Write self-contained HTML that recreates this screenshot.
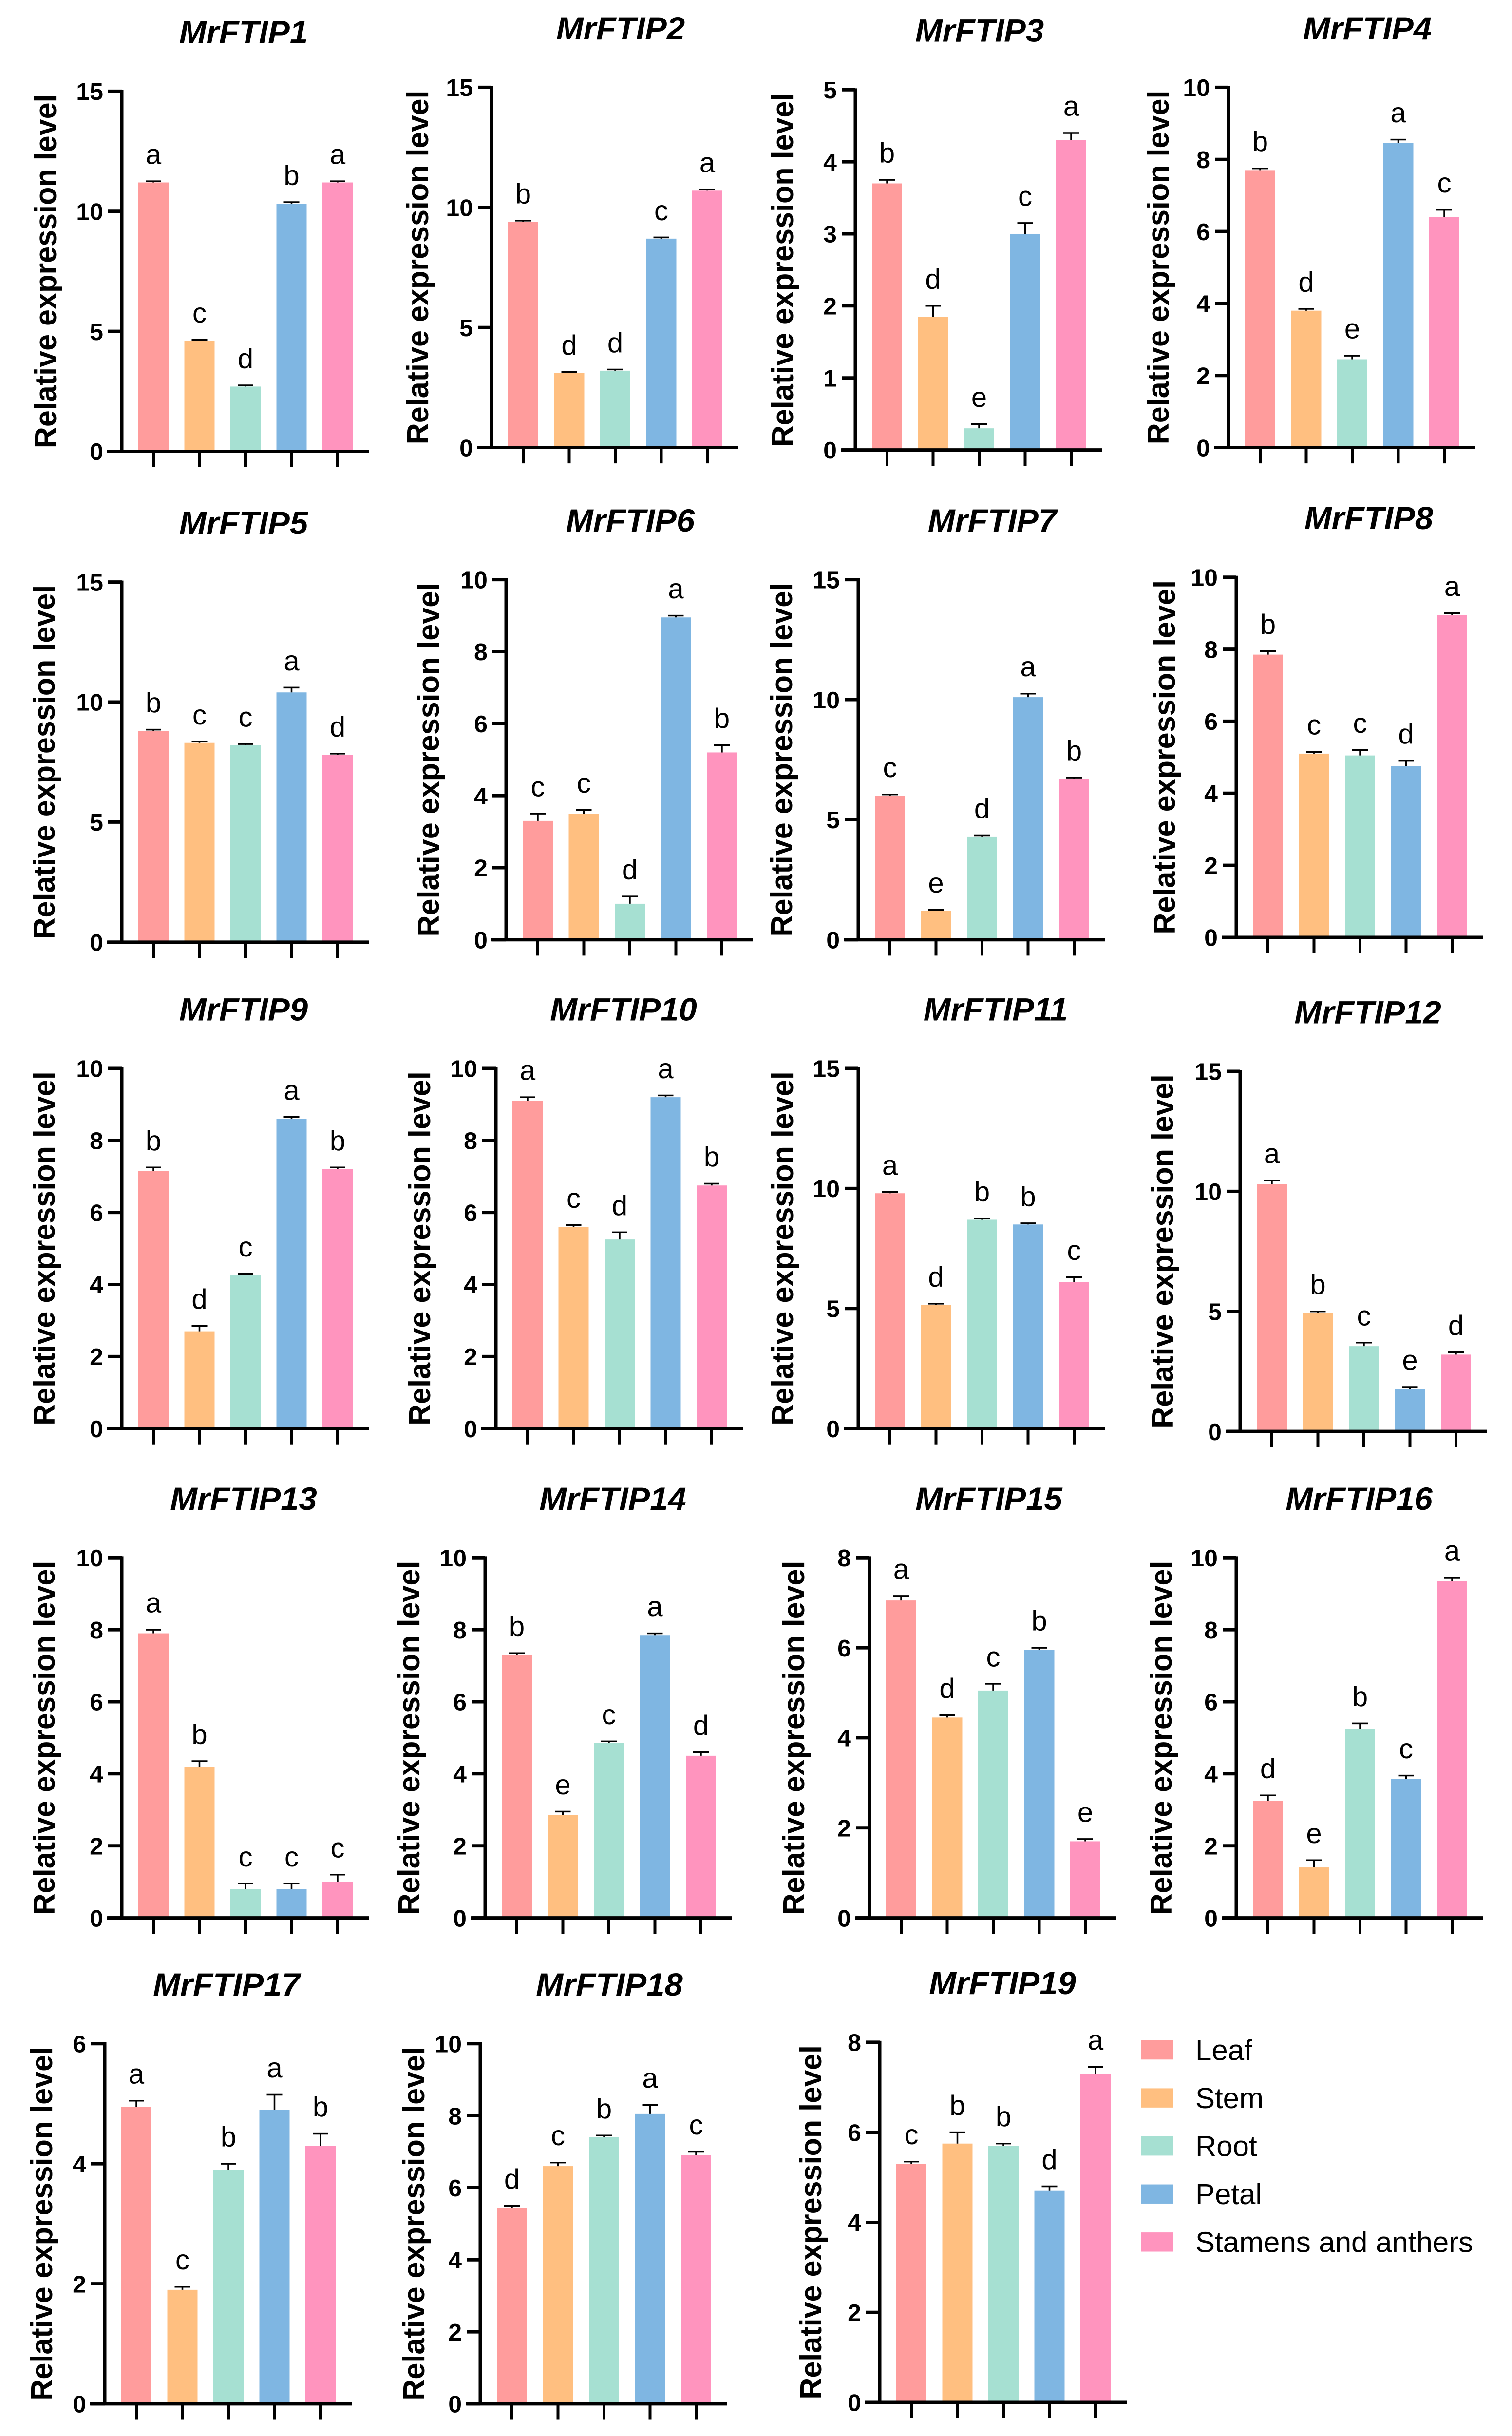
<!DOCTYPE html>
<html><head><meta charset="utf-8">
<style>
html,body{margin:0;padding:0;background:#fff;width:100vw;height:100vh;overflow:hidden;}
svg{display:block;position:absolute;left:0;top:0;width:100vw;height:100vh;overflow:hidden;}
text{font-family:"Liberation Sans",Arial,sans-serif;}
</style></head>
<body>
<svg id="fig" viewBox="0 0 3104 5073" preserveAspectRatio="none" xmlns="http://www.w3.org/2000/svg"></svg>
<script>
const tissues = ["Leaf","Stem","Root","Petal","Stamens and anthers"];
const colors = ["#FF9C9C","#FFBF80","#A6E0D2","#7FB6E2","#FF94BE"];
const genes = ["MrFTIP1","MrFTIP2","MrFTIP3","MrFTIP4","MrFTIP5","MrFTIP6","MrFTIP7","MrFTIP8","MrFTIP9","MrFTIP10","MrFTIP11","MrFTIP12","MrFTIP13","MrFTIP14","MrFTIP15","MrFTIP16","MrFTIP17","MrFTIP18","MrFTIP19"];
const yMax = [15,15,5,10,15,10,15,10,10,10,15,15,10,10,8,10,6,10,8];
const yStep = [5,5,1,2,5,2,5,2,2,2,5,5,2,2,2,2,2,2,2];
const values = [
 [11.2,4.6,2.7,10.3,11.2],
 [9.4,3.1,3.2,8.7,10.7],
 [3.7,1.85,0.3,3.0,4.3],
 [7.7,3.8,2.45,8.45,6.4],
 [8.8,8.3,8.2,10.4,7.8],
 [3.3,3.5,1.0,8.95,5.2],
 [6.0,1.2,4.3,10.1,6.7],
 [7.85,5.1,5.05,4.75,8.95],
 [7.15,2.7,4.25,8.6,7.2],
 [9.1,5.6,5.25,9.2,6.75],
 [9.8,5.15,8.7,8.5,6.1],
 [10.3,4.95,3.55,1.75,3.2],
 [7.9,4.2,0.8,0.8,1.0],
 [7.3,2.85,4.85,7.85,4.5],
 [7.05,4.45,5.05,5.95,1.7],
 [3.25,1.4,5.25,3.85,9.35],
 [4.95,1.9,3.9,4.9,4.3],
 [5.45,6.6,7.4,8.05,6.9],
 [5.3,5.75,5.7,4.7,7.3]
];
const errors = [
 [0.05,0.05,0.05,0.08,0.05],
 [0.05,0.05,0.05,0.05,0.05],
 [0.05,0.15,0.06,0.15,0.1],
 [0.05,0.05,0.1,0.1,0.2],
 [0.05,0.05,0.05,0.2,0.05],
 [0.2,0.1,0.2,0.05,0.2],
 [0.05,0.05,0.05,0.15,0.05],
 [0.1,0.05,0.15,0.15,0.05],
 [0.1,0.15,0.05,0.05,0.05],
 [0.1,0.05,0.2,0.05,0.05],
 [0.05,0.05,0.05,0.05,0.2],
 [0.15,0.05,0.15,0.1,0.1],
 [0.1,0.15,0.15,0.15,0.2],
 [0.05,0.1,0.05,0.05,0.1],
 [0.1,0.05,0.15,0.05,0.05],
 [0.15,0.2,0.15,0.1,0.1],
 [0.1,0.05,0.1,0.25,0.2],
 [0.05,0.1,0.05,0.25,0.1],
 [0.05,0.25,0.05,0.1,0.15]
];
const letters = [
 ["a","c","d","b","a"],["b","d","d","c","a"],["b","d","e","c","a"],["b","d","e","a","c"],
 ["b","c","c","a","d"],["c","c","d","a","b"],["c","e","d","a","b"],["b","c","c","d","a"],
 ["b","d","c","a","b"],["a","c","d","a","b"],["a","d","b","b","c"],["a","b","c","e","d"],
 ["a","b","c","c","c"],["b","e","c","a","d"],["a","d","c","b","e"],["d","e","b","c","a"],
 ["a","c","b","a","b"],["d","c","b","a","c"],["c","b","b","d","a"]
];
// layout (pixel positions, not data)
const axX = [250,1009,1756,2522, 250,1039,1762,2538, 250,1018,1762,2546, 250,996,1785,2538, 215,986,1806];
const axZero = [940,932,937,932, 1962,1957,1957,1952, 2975,2975,2975,2981, 3994,3994,3994,3994, 5006,5006,5003];
const titleOff = [250,265,255,285, 250,255,275,272, 250,262,282,262, 250,262,245,252, 250,265,252];
const ylabOff = [157,152,150,145, 160,160,158,148, 160,157,156,160, 160,157,156,155, 130,137,142];
const PH = 750;

const NS="http://www.w3.org/2000/svg";
const svg=document.getElementById('fig');
function mk(tag,attrs,parent){const e=document.createElementNS(NS,tag);for(const k in attrs)e.setAttribute(k,attrs[k]);(parent||svg).appendChild(e);return e;}

genes.forEach((g,i)=>{
  const g0=mk('g',{});
  
  
  const x0=axX[i], zero=axZero[i], top=zero-PH;
  const yS=v=>zero-(v/yMax[i])*PH;
  const xS=j=>x0+65+j*94.5;
  const t=mk('text',{x:x0+titleOff[i],y:top-100,'text-anchor':'middle','font-size':67,'font-weight':'bold','font-style':'italic',fill:'#000'},g0);
  t.textContent=g;
  
  
  const yl=mk('text',{x:0,y:0,transform:`translate(${x0-ylabOff[i]+22},${(top+zero)/2}) rotate(-90)`,'text-anchor':'middle','font-size':62,'font-weight':'bold',fill:'#000'},g0);
  yl.textContent='Relative expression level';
  
  
  values[i].forEach((v,j)=>{
    const cx=xS(j), yt=yS(v), ye=yS(v+errors[i][j]);
    const r=mk('rect',{x:cx-31,y:yt,width:62,height:zero-yt,fill:colors[j]},g0);
    
    
    const eb=mk('path',{d:`M${cx} ${yt} V${ye} M${cx-16} ${ye} H${cx+16}`,stroke:'#000','stroke-width':3.5,fill:'none'},g0);
    
    
    const lt=mk('text',{x:cx,y:ye-36,'text-anchor':'middle','font-size':58,fill:'#000'},g0);
    lt.textContent=letters[i][j];
    
    
    const tk=mk('line',{x1:cx,y1:zero,x2:cx,y2:zero+33,stroke:'#000','stroke-width':6},g0);
    
    
  });
  const ya=mk('line',{x1:x0,y1:top-3,x2:x0,y2:zero+3,stroke:'#000','stroke-width':7},g0);
  
  
  const xa=mk('line',{x1:x0-30,y1:zero,x2:x0+507,y2:zero,stroke:'#000','stroke-width':7},g0);
  
  
  for(let v=0; v<=yMax[i]+1e-9; v+=yStep[i]){
    const y=yS(v);
    const tl=mk('line',{x1:x0-28,y1:y,x2:x0,y2:y,stroke:'#000','stroke-width':7},g0);
    
    
    const tt=mk('text',{x:x0-38,y:y+18,'text-anchor':'end','font-size':50,'font-weight':'bold',fill:'#000'},g0);
    tt.textContent=String(v);
    
    
  }
});
const lg=mk('g',{});


tissues.forEach((tn,j)=>{
  const y=4249+j*100;
  const sw=mk('rect',{x:2342,y:y,width:66,height:40,fill:colors[j]},lg);
  
  
  const tx=mk('text',{x:2454,y:y+41,'font-size':60,fill:'#000'},lg);
  tx.textContent=tn;
  
  
});
</script>
</body></html>
